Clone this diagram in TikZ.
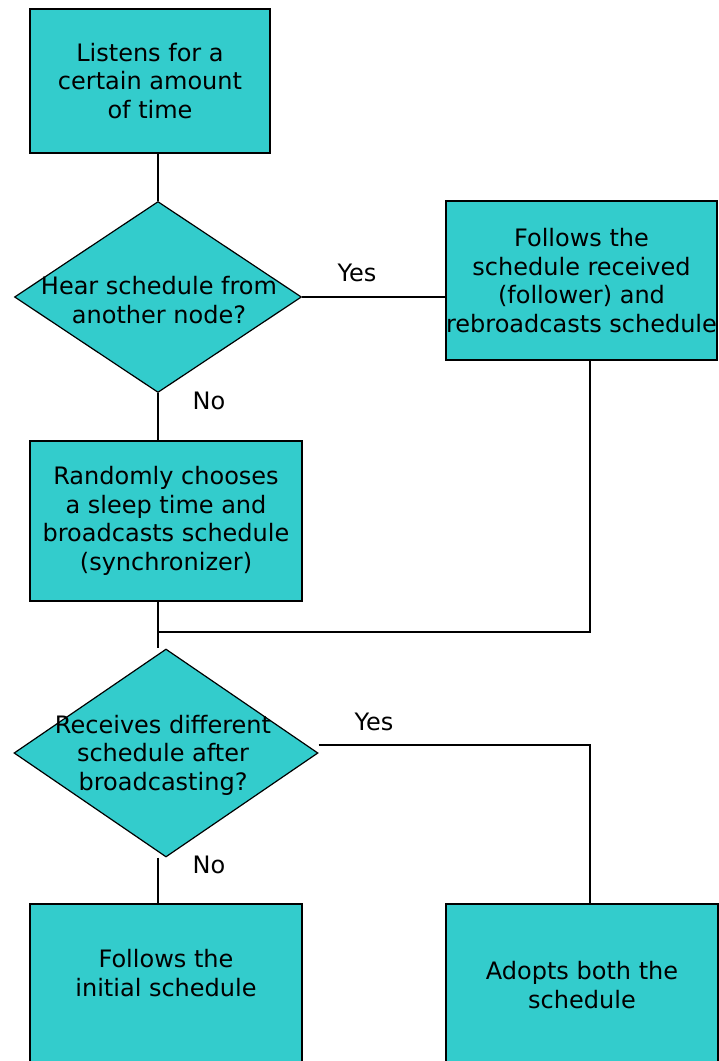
\documentclass[tikz,border=0pt]{standalone}
\usepackage{fontspec}
\setmainfont{DejaVu Sans}
\usetikzlibrary{shapes.geometric}
\definecolor{flowcyan}{RGB}{51,204,204}
\tikzset{
  process/.style={rectangle, draw=black, fill=flowcyan, line width=1.5pt, inner sep=0pt},
  decision/.style={diamond, draw=black, fill=flowcyan, line width=1.2pt, inner sep=0pt},
  flowtext/.style={align=center, font=\fontsize{24}{28.5}\selectfont, inner sep=0pt},
  link/.style={line width=1.5pt}
}
\begin{document}
\begin{tikzpicture}[x=1pt, y=-1pt]
          \useasboundingbox (0,0) rectangle (719,1061);

          \node[process, flowtext, minimum width=240pt, minimum height=144pt] (listen) at (150,81) {Listens for a\\certain amount\\of time};

          \node[decision, minimum width=287pt, minimum height=191pt] (hear) at (158,297) {};
          \node[flowtext] (heartext) at (159,300) {Hear schedule from\\another node?};

          \node[process, flowtext, minimum width=271pt, minimum height=159pt] (follow) at (581.5,280.5) {Follows the\\schedule received\\(follower) and\\rebroadcasts schedule};

          \node[process, flowtext, minimum width=272pt, minimum height=160pt] (random) at (166,521) {Randomly chooses\\a sleep time and\\broadcasts schedule\\(synchronizer)};

          \node[decision, minimum width=304pt, minimum height=208pt] (recv) at (166,753) {};
          \node[flowtext] (recvtext) at (163,755) {Receives different\\schedule after\\broadcasting?};

          \node[process, minimum width=272pt, minimum height=159pt] (initial) at (166,983.5) {};
          \node[flowtext] (initialtext) at (166,973) {Follows the\\initial schedule};

          \node[process, minimum width=272pt, minimum height=159pt] (adopt) at (582,983.5) {};
          \node[flowtext] (adopttext) at (582,985) {Adopts both the\\schedule};

          \node[flowtext] (yesa) at (357,273) {Yes};
          \node[flowtext] (noa) at (209,401) {No};
          \node[flowtext] (yesb) at (374,722) {Yes};
          \node[flowtext] (nob) at (209,865) {No};

          \coordinate (merge) at (158,632);
          \coordinate (yesbend) at (590,745);

          \draw[link] (hear.north |- listen.south) -- (hear.north);
          \draw[link] (hear.east) -- (follow.west |- hear.east);
          \draw[link] (hear.south) -- (hear.south |- random.north);
          \draw[link] ([xshift=8.5pt]follow.south) |- (merge);
          \draw[link] (merge |- random.south) -- (merge |- recv.north);
          \draw[link] ([yshift=8pt]recv.east) -- (yesbend) -- (yesbend |- adopt.north);
          \draw[link] (merge |- recv.south) -- (merge |- initial.north);
        \end{tikzpicture}
\end{document}
